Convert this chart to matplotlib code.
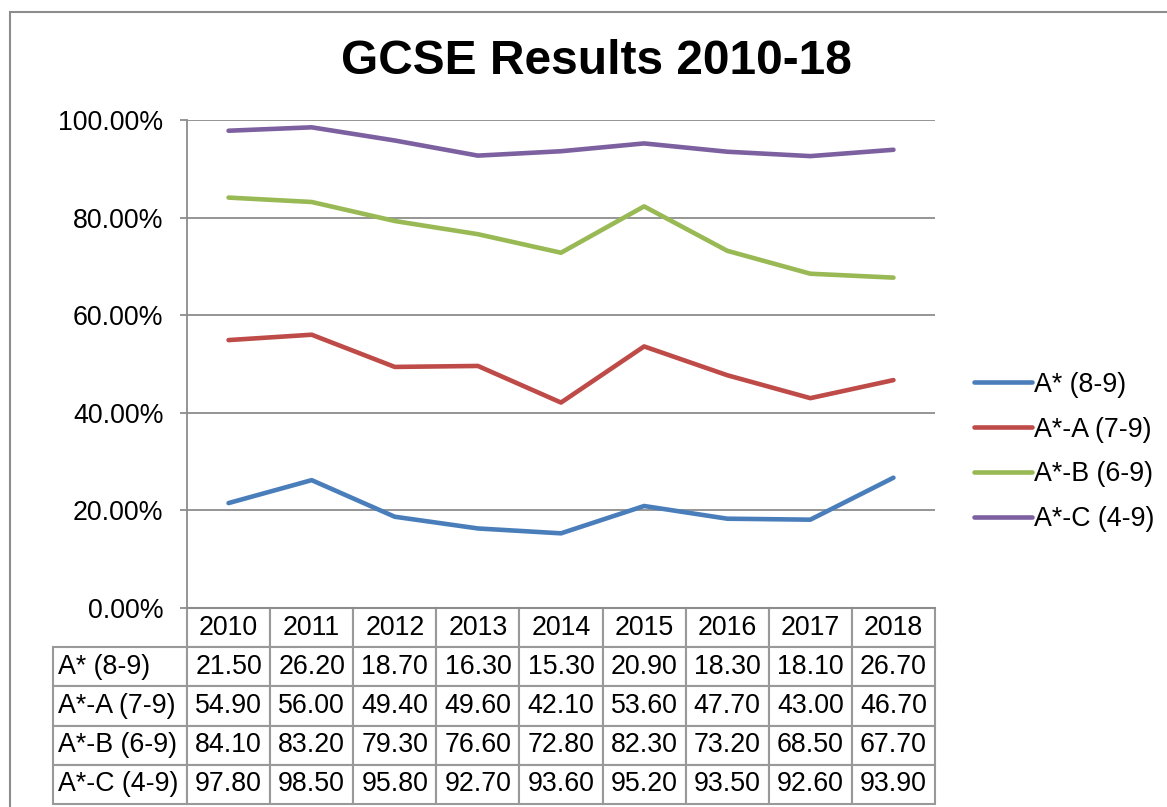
import matplotlib
matplotlib.use("Agg")
import matplotlib.pyplot as plt
from matplotlib.ticker import FuncFormatter
from matplotlib.patches import Rectangle

plt.rcParams['font.family'] = ['Liberation Sans', 'DejaVu Sans']

years = ['2010', '2011', '2012', '2013', '2014', '2015', '2016', '2017', '2018']
series_names = ['A* (8-9)', 'A*-A (7-9)', 'A*-B (6-9)', 'A*-C (4-9)']
a_star = [21.50, 26.20, 18.70, 16.30, 15.30, 20.90, 18.30, 18.10, 26.70]
a_star_a = [54.90, 56.00, 49.40, 49.60, 42.10, 53.60, 47.70, 43.00, 46.70]
a_star_b = [84.10, 83.20, 79.30, 76.60, 72.80, 82.30, 73.20, 68.50, 67.70]
a_star_c = [97.80, 98.50, 95.80, 92.70, 93.60, 95.20, 93.50, 92.60, 93.90]
colors = ['#4A7EBB', '#BE4B48', '#98B954', '#7D60A0']
y_ticks = [0, 20, 40, 60, 80, 100]

series = [a_star, a_star_a, a_star_b, a_star_c]

FS = 19.3
W, H = 1167, 807
fig = plt.figure(figsize=(W / 100, H / 100), dpi=100)
ax = fig.add_axes([187 / W, 1 - 608 / H, (935 - 187) / W, (608 - 120) / H])

xs = [i + 0.5 for i in range(len(years))]
for name, vals, c in zip(series_names, series, colors):
    ax.plot(xs, vals, color=c, lw=3.3, label=name, solid_capstyle='round', solid_joinstyle='round')

ax.set_xlim(0, len(years))
ax.set_ylim(0, 100)
ax.set_yticks(y_ticks)
ax.yaxis.set_major_formatter(FuncFormatter(lambda v, p: f"{v:.2f}%"))
ax.set_xticks([])
ax.grid(axis='y', color='#8c8c8c', lw=1.3)
ax.set_axisbelow(True)
for s in ['top', 'right']:
    ax.spines[s].set_visible(False)
for s in ['left', 'bottom']:
    ax.spines[s].set_color('#8c8c8c')
    ax.spines[s].set_linewidth(1.3)
ax.tick_params(axis='y', length=5, width=1.3, color='#8c8c8c', pad=12, labelsize=FS)

# data table
cell_text = [[''] + years]
for name, vals in zip(series_names, series):
    cell_text.append([name] + [f"{v:.2f}" for v in vals])
ax_w = 935 - 187
ax_h = 608 - 120
x0 = (53 - 187) / ax_w
col_widths = [134] + [ax_w / len(years)] * len(years)
tbl = ax.table(cellText=cell_text, colWidths=col_widths, cellLoc='center',
               bbox=[x0, -(804 - 608) / ax_h, (935 - 53) / ax_w, (804 - 608) / ax_h])
tbl.auto_set_font_size(False)
tbl.set_fontsize(FS)
for (r, c), cell in tbl.get_celld().items():
    cell.set_edgecolor('#999999')
    cell.set_linewidth(1.5)
    if c == 0:
        cell._loc = 'left'
        cell.PAD = 0.04
        cell.get_text().set_ha('left')
    if r == 0 and c == 0:
        cell.visible_edges = ''

ax.legend(loc='center left', bbox_to_anchor=(974 / W, 1 - 452 / H),
          bbox_transform=fig.transFigure, frameon=False, fontsize=FS,
          handlelength=2.15, handletextpad=0.1, labelspacing=0.7, borderpad=0,
          borderaxespad=0)

fig.text(596 / W, 1 - 62 / H, 'GCSE Results 2010-18', ha='center', va='center',
         fontsize=34.5, fontweight='bold')

fig.patches.append(Rectangle((10 / W, -0.5), 2, 1.5 - 12 / H, transform=fig.transFigure,
                             fill=False, edgecolor='#8c8c8c', lw=1.5))

fig.savefig('out.png', dpi=100)
